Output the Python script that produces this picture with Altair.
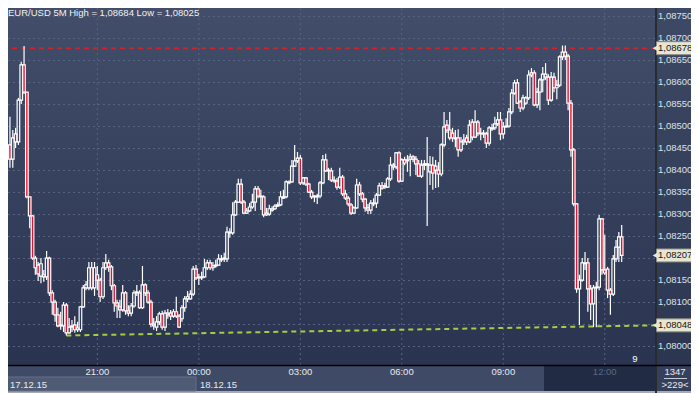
import altair as alt
import pandas as pd

# ------------------------------------------------------------------ data
title_text = "EUR/USD 5M High = 1,08684 Low = 1,08025"
first_bar_hour = 18 + 25 / 60      # first 5-minute bar: 17.12.15 18:25
bar_minutes = 5

opens = [
    1.08458, 1.08426, 1.08483, 1.08465, 1.08560, 1.08640, 1.08578, 1.08340, 1.08297, 1.08201,
    1.08185, 1.08160, 1.08163, 1.08158, 1.08201, 1.08122, 1.08101, 1.08072, 1.08047, 1.08047,
    1.08094, 1.08031, 1.08044, 1.08049, 1.08038, 1.08038, 1.08090, 1.08133, 1.08133, 1.08179,
    1.08133, 1.08163, 1.08151, 1.08113, 1.08179, 1.08190, 1.08181, 1.08138, 1.08099, 1.08090,
    1.08083, 1.08122, 1.08081, 1.08076, 1.08092, 1.08122, 1.08122, 1.08088, 1.08140, 1.08122,
    1.08101, 1.08051, 1.08044, 1.08056, 1.08074, 1.08044, 1.08076, 1.08076, 1.08069, 1.08079,
    1.08069, 1.08063, 1.08088, 1.08108, 1.08108, 1.08119, 1.08176, 1.08158, 1.08156, 1.08158,
    1.08179, 1.08190, 1.08179, 1.08183, 1.08185, 1.08197, 1.08199, 1.08199, 1.08260, 1.08258,
    1.08299, 1.08328, 1.08369, 1.08328, 1.08303, 1.08308, 1.08317, 1.08328, 1.08358, 1.08342,
    1.08340, 1.08299, 1.08301, 1.08310, 1.08313, 1.08319, 1.08322, 1.08337, 1.08340, 1.08372,
    1.08374, 1.08410, 1.08422, 1.08428, 1.08372, 1.08383, 1.08369, 1.08351, 1.08342, 1.08340,
    1.08342, 1.08372, 1.08424, 1.08401, 1.08399, 1.08378, 1.08376, 1.08362, 1.08385, 1.08347,
    1.08337, 1.08322, 1.08303, 1.08315, 1.08367, 1.08347, 1.08335, 1.08315, 1.08310, 1.08324,
    1.08326, 1.08344, 1.08365, 1.08365, 1.08362, 1.08381, 1.08412, 1.08408, 1.08440, 1.08376,
    1.08424, 1.08422, 1.08426, 1.08431, 1.08426, 1.08415, 1.08387, 1.08412, 1.08412, 1.08397,
    1.08412, 1.08410, 1.08401, 1.08392, 1.08458, 1.08503, 1.08492, 1.08485, 1.08474, 1.08474,
    1.08447, 1.08465, 1.08474, 1.08465, 1.08510, 1.08476, 1.08510, 1.08483, 1.08485, 1.08483,
    1.08462, 1.08494, 1.08497, 1.08506, 1.08515, 1.08483, 1.08499, 1.08501, 1.08533, 1.08576,
    1.08599, 1.08556, 1.08542, 1.08553, 1.08565, 1.08617, 1.08622, 1.08549, 1.08578, 1.08606,
    1.08619, 1.08612, 1.08560, 1.08612, 1.08588, 1.08594, 1.08658, 1.08669, 1.08660, 1.08553,
    1.08447, 1.08324, 1.08131, 1.08151, 1.08188, 1.08190, 1.08131, 1.08097, 1.08133, 1.08135,
    1.08290, 1.08174, 1.08176, 1.08128, 1.08119, 1.08199, 1.08226, 1.08249,
]
highs = [
    1.08522, 1.08492, 1.08497, 1.08565, 1.08647, 1.08683, 1.08578, 1.08340, 1.08299, 1.08206,
    1.08192, 1.08201, 1.08174, 1.08217, 1.08204, 1.08128, 1.08106, 1.08088, 1.08079, 1.08101,
    1.08099, 1.08065, 1.08060, 1.08069, 1.08056, 1.08092, 1.08140, 1.08149, 1.08192, 1.08192,
    1.08192, 1.08183, 1.08156, 1.08192, 1.08210, 1.08197, 1.08185, 1.08142, 1.08106, 1.08106,
    1.08140, 1.08126, 1.08094, 1.08099, 1.08128, 1.08140, 1.08128, 1.08183, 1.08144, 1.08128,
    1.08106, 1.08065, 1.08069, 1.08079, 1.08081, 1.08083, 1.08085, 1.08083, 1.08085, 1.08113,
    1.08074, 1.08094, 1.08115, 1.08126, 1.08128, 1.08183, 1.08185, 1.08165, 1.08170, 1.08199,
    1.08197, 1.08197, 1.08192, 1.08197, 1.08210, 1.08208, 1.08213, 1.08272, 1.08269, 1.08328,
    1.08333, 1.08381, 1.08381, 1.08333, 1.08315, 1.08326, 1.08347, 1.08365, 1.08365, 1.08356,
    1.08344, 1.08315, 1.08322, 1.08319, 1.08324, 1.08328, 1.08353, 1.08356, 1.08378, 1.08378,
    1.08424, 1.08458, 1.08442, 1.08435, 1.08385, 1.08385, 1.08372, 1.08356, 1.08344, 1.08347,
    1.08376, 1.08435, 1.08438, 1.08406, 1.08406, 1.08387, 1.08383, 1.08406, 1.08390, 1.08356,
    1.08342, 1.08326, 1.08319, 1.08381, 1.08374, 1.08351, 1.08337, 1.08324, 1.08333, 1.08337,
    1.08349, 1.08372, 1.08374, 1.08372, 1.08385, 1.08431, 1.08417, 1.08442, 1.08444, 1.08428,
    1.08431, 1.08435, 1.08438, 1.08435, 1.08433, 1.08424, 1.08424, 1.08424, 1.08476, 1.08433,
    1.08431, 1.08424, 1.08419, 1.08462, 1.08533, 1.08515, 1.08533, 1.08497, 1.08492, 1.08494,
    1.08476, 1.08483, 1.08481, 1.08515, 1.08517, 1.08537, 1.08515, 1.08497, 1.08492, 1.08488,
    1.08501, 1.08506, 1.08522, 1.08533, 1.08533, 1.08510, 1.08519, 1.08542, 1.08585, 1.08606,
    1.08608, 1.08560, 1.08572, 1.08569, 1.08628, 1.08633, 1.08628, 1.08588, 1.08610, 1.08635,
    1.08644, 1.08619, 1.08624, 1.08622, 1.08606, 1.08662, 1.08684, 1.08684, 1.08665, 1.08560,
    1.08451, 1.08326, 1.08163, 1.08201, 1.08215, 1.08201, 1.08140, 1.08140, 1.08147, 1.08299,
    1.08292, 1.08254, 1.08181, 1.08133, 1.08208, 1.08242, 1.08260, 1.08276,
]
lows = [
    1.08406, 1.08406, 1.08451, 1.08458, 1.08551, 1.08574, 1.08337, 1.08269, 1.08197, 1.08163,
    1.08149, 1.08144, 1.08147, 1.08151, 1.08115, 1.08072, 1.08056, 1.08044, 1.08038, 1.08033,
    1.08025, 1.08029, 1.08033, 1.08031, 1.08033, 1.08033, 1.08088, 1.08128, 1.08128, 1.08128,
    1.08115, 1.08128, 1.08101, 1.08108, 1.08174, 1.08170, 1.08128, 1.08079, 1.08065, 1.08065,
    1.08079, 1.08072, 1.08069, 1.08069, 1.08088, 1.08115, 1.08085, 1.08085, 1.08115, 1.08097,
    1.08044, 1.08038, 1.08035, 1.08049, 1.08038, 1.08035, 1.08063, 1.08060, 1.08065, 1.08065,
    1.08042, 1.08056, 1.08079, 1.08101, 1.08106, 1.08115, 1.08151, 1.08140, 1.08151, 1.08156,
    1.08174, 1.08174, 1.08172, 1.08179, 1.08183, 1.08192, 1.08192, 1.08192, 1.08247, 1.08254,
    1.08297, 1.08326, 1.08324, 1.08301, 1.08301, 1.08306, 1.08313, 1.08308, 1.08337, 1.08310,
    1.08294, 1.08297, 1.08297, 1.08306, 1.08310, 1.08317, 1.08319, 1.08335, 1.08337, 1.08369,
    1.08372, 1.08408, 1.08417, 1.08367, 1.08367, 1.08365, 1.08349, 1.08335, 1.08328, 1.08324,
    1.08337, 1.08369, 1.08397, 1.08378, 1.08374, 1.08372, 1.08356, 1.08358, 1.08342, 1.08333,
    1.08319, 1.08299, 1.08301, 1.08313, 1.08342, 1.08328, 1.08306, 1.08301, 1.08301, 1.08319,
    1.08315, 1.08342, 1.08356, 1.08358, 1.08360, 1.08376, 1.08401, 1.08403, 1.08372, 1.08374,
    1.08412, 1.08397, 1.08387, 1.08419, 1.08390, 1.08385, 1.08383, 1.08401, 1.08274, 1.08367,
    1.08356, 1.08360, 1.08362, 1.08387, 1.08453, 1.08485, 1.08469, 1.08465, 1.08453, 1.08431,
    1.08442, 1.08458, 1.08458, 1.08462, 1.08469, 1.08474, 1.08478, 1.08469, 1.08474, 1.08451,
    1.08456, 1.08490, 1.08492, 1.08501, 1.08469, 1.08472, 1.08497, 1.08497, 1.08528, 1.08572,
    1.08551, 1.08533, 1.08537, 1.08549, 1.08560, 1.08612, 1.08546, 1.08542, 1.08537, 1.08578,
    1.08606, 1.08549, 1.08556, 1.08578, 1.08562, 1.08590, 1.08651, 1.08651, 1.08537, 1.08431,
    1.08319, 1.08122, 1.08049, 1.08147, 1.08174, 1.08079, 1.08060, 1.08044, 1.08044, 1.08128,
    1.08163, 1.08163, 1.08110, 1.08072, 1.08115, 1.08192, 1.08192, 1.08192,
]
closes = [
    1.08426, 1.08474, 1.08465, 1.08560, 1.08640, 1.08578, 1.08340, 1.08297, 1.08201, 1.08179,
    1.08165, 1.08188, 1.08158, 1.08201, 1.08122, 1.08101, 1.08072, 1.08047, 1.08049, 1.08094,
    1.08031, 1.08044, 1.08047, 1.08038, 1.08042, 1.08090, 1.08133, 1.08140, 1.08179, 1.08133,
    1.08179, 1.08151, 1.08113, 1.08179, 1.08190, 1.08181, 1.08138, 1.08099, 1.08092, 1.08083,
    1.08122, 1.08081, 1.08076, 1.08092, 1.08122, 1.08124, 1.08088, 1.08140, 1.08122, 1.08101,
    1.08051, 1.08047, 1.08056, 1.08074, 1.08044, 1.08076, 1.08072, 1.08069, 1.08079, 1.08069,
    1.08044, 1.08088, 1.08108, 1.08113, 1.08119, 1.08176, 1.08156, 1.08156, 1.08158, 1.08179,
    1.08190, 1.08179, 1.08183, 1.08185, 1.08199, 1.08199, 1.08201, 1.08260, 1.08258, 1.08299,
    1.08328, 1.08369, 1.08328, 1.08303, 1.08308, 1.08317, 1.08328, 1.08358, 1.08342, 1.08340,
    1.08299, 1.08303, 1.08313, 1.08313, 1.08319, 1.08322, 1.08340, 1.08340, 1.08374, 1.08374,
    1.08410, 1.08422, 1.08428, 1.08372, 1.08383, 1.08369, 1.08351, 1.08340, 1.08340, 1.08342,
    1.08372, 1.08424, 1.08399, 1.08399, 1.08378, 1.08376, 1.08362, 1.08385, 1.08347, 1.08337,
    1.08324, 1.08303, 1.08315, 1.08367, 1.08347, 1.08335, 1.08315, 1.08310, 1.08326, 1.08326,
    1.08344, 1.08365, 1.08360, 1.08362, 1.08381, 1.08412, 1.08408, 1.08440, 1.08376, 1.08424,
    1.08417, 1.08424, 1.08431, 1.08426, 1.08415, 1.08387, 1.08412, 1.08415, 1.08415, 1.08412,
    1.08394, 1.08401, 1.08392, 1.08458, 1.08499, 1.08492, 1.08474, 1.08474, 1.08472, 1.08447,
    1.08465, 1.08469, 1.08465, 1.08503, 1.08476, 1.08510, 1.08485, 1.08485, 1.08483, 1.08462,
    1.08497, 1.08497, 1.08506, 1.08515, 1.08483, 1.08499, 1.08501, 1.08533, 1.08576, 1.08599,
    1.08553, 1.08542, 1.08565, 1.08565, 1.08617, 1.08622, 1.08549, 1.08578, 1.08606, 1.08619,
    1.08612, 1.08560, 1.08612, 1.08588, 1.08594, 1.08658, 1.08669, 1.08660, 1.08553, 1.08447,
    1.08324, 1.08131, 1.08151, 1.08190, 1.08190, 1.08131, 1.08097, 1.08133, 1.08135, 1.08290,
    1.08174, 1.08167, 1.08128, 1.08119, 1.08199, 1.08226, 1.08249, 1.08207,
]

price_ticks = [1.08000, 1.08050, 1.08100, 1.08150, 1.08200, 1.08250, 1.08300, 1.08350,
               1.08400, 1.08450, 1.08500, 1.08550, 1.08600, 1.08650, 1.08700, 1.08750]
price_tick_labels = ["1,08000", "1,08050", "1,08100", "1,08150", "1,08200", "1,08250",
                     "1,08300", "1,08350", "1,08400", "1,08450", "1,08500", "1,08550",
                     "1,08600", "1,08650", "1,08700", "1,08750"]
time_ticks = [21, 24, 27, 30, 33, 36]          # hours counted from 17.12.15 00:00
time_tick_labels = ["21:00", "00:00", "03:00", "06:00", "09:00", "12:00"]
date_labels = ["17.12.15", "18.12.15"]
marker_prices = [1.08678, 1.08207, 1.08048]
marker_labels = ["1,08678", "1,08207", "1,08048"]
high_line_price = 1.08678
trend_start_hour = 20 + 5 / 60                 # bar with the 1,08025 low
trend_prices = [1.08025, 1.08048]
bars_label = "1347"
visible_label = ">229<"
corner_label = "9"

# ------------------------------------------------------------------ frame
FONT = "Liberation Sans, Arial, sans-serif"
FS = 9.5
W, H = 683, 385


def cx(a):
    return a - 8


def cy(a):
    return a - 8


xsc = alt.Scale(domain=[18.5066, 38.4016], nice=False, zero=False)
ysc = alt.Scale(domain=[1.078943, 1.087693], nice=False, zero=False)


def X(f):
    return alt.X(f, type="quantitative", scale=xsc, axis=None)


def Y(f):
    return alt.Y(f, type="quantitative", scale=ysc, axis=None)


one = pd.DataFrame({"k": [0]})


def rect(x1, y1, x2, y2, **kw):
    return alt.Chart(one).mark_rect(**kw).encode(
        x=alt.value(cx(x1)), x2=alt.value(cx(x2)),
        y=alt.value(cy(y1)), y2=alt.value(cy(y2)))


def seg(x1, y1, x2, y2, **kw):
    return alt.Chart(one).mark_rule(**kw).encode(
        x=alt.value(cx(x1)), x2=alt.value(cx(x2)),
        y=alt.value(cy(y1)), y2=alt.value(cy(y2)))


def label(text, x, y, **kw):
    return alt.Chart(one).mark_text(text=text, font=FONT, fontSize=FS, **kw).encode(
        x=alt.value(cx(x)), y=alt.value(cy(y)))


def grad(c1, c2):
    return alt.LinearGradient(
        gradient="linear",
        stops=[alt.GradientStop(color=c1, offset=0), alt.GradientStop(color=c2, offset=1)],
        x1=0, x2=0, y1=0, y2=1)


# ------------------------------------------------------------------ candles
df = pd.DataFrame({"open": opens, "high": highs, "low": lows, "close": closes})
df["t"] = [first_bar_hour + i * bar_minutes / 60 for i in range(len(df))]
df["top"] = df[["open", "close"]].max(axis=1)
df["bot"] = df[["open", "close"]].min(axis=1)
df["hi"] = df[["high", "top"]].max(axis=1)
df["lo"] = df[["low", "bot"]].min(axis=1)

base = alt.Chart(df)
wick_up = base.mark_rule(color="#ffffff", strokeWidth=1.2).encode(x=X("t"), y=Y("hi"), y2="top")
wick_dn = base.mark_rule(color="#ffffff", strokeWidth=1.2).encode(x=X("t"), y=Y("bot"), y2="lo")
bodies = base.mark_bar(width=2.6, stroke="#ffffff", strokeWidth=1.2).encode(
    x=X("t"), y=Y("top"), y2="bot",
    fill=alt.condition("datum.close < datum.open", alt.value("#ec0f2c"), alt.value("transparent")))

# ------------------------------------------------------------------ grid / lines
pt = pd.DataFrame({"p": price_ticks, "lab": price_tick_labels})
tt = pd.DataFrame({"t": time_ticks, "lab": time_tick_labels})

hgrid = alt.Chart(pt).mark_rule(color="#58647f", strokeDash=[2, 3], strokeWidth=1).encode(
    y=Y("p"), x=alt.value(cx(3)), x2=alt.value(cx(655)))
vgrid = alt.Chart(tt).mark_rule(color="#58647f", strokeDash=[2, 3], strokeWidth=1).encode(
    x=X("t"), y=alt.value(cy(3)), y2=alt.value(cy(365)))

high_line = alt.Chart(pd.DataFrame({"p": [high_line_price]})).mark_rule(
    color="#d3202c", strokeDash=[5, 4], strokeWidth=2).encode(
    y=Y("p"), x=alt.value(cx(3)), x2=alt.value(cx(655)))

trend = alt.Chart(pd.DataFrame({"t": [trend_start_hour], "p1": [trend_prices[0]],
                                "p2": [trend_prices[1]]})).mark_rule(
    color="#a2d03e", strokeDash=[5, 4], strokeWidth=2).encode(
    x=X("t"), x2=alt.value(cx(655)), y=Y("p1"), y2="p2")

# ------------------------------------------------------------------ panels
layers = [
    rect(0, 0, 699, 393, color="#a3abb8"),
    rect(3, 3, 655, 365, color=grad("#424e6a", "#2a3450")),
    rect(657, 3, 697, 365, color=grad("#3d4965", "#2c3651")),
    rect(3, 366, 655, 391, color="#3e4a66"),
    rect(3, 377, 196, 391, color="#4f5b74", stroke="#65718a", strokeWidth=1),
    rect(544, 366, 655, 391, color="#222b44"),
    rect(657, 366, 697, 391, color="#35415c"),
    hgrid, vgrid, high_line, trend,
    wick_up, wick_dn, bodies,
    seg(656, 3, 656, 393, color="#000000", strokeWidth=1.5),
    seg(3, 365.5, 699, 365.5, color="#000000", strokeWidth=1.5),
]

ax_text = alt.Chart(pt).mark_text(align="left", baseline="middle", font=FONT, fontSize=FS,
                                  color="#dde2ea").encode(
    y=Y("p"), x=alt.value(cx(658)), text="lab:N")

mk = pd.DataFrame({"p": marker_prices, "lab": marker_labels})
tag_box = alt.Chart(mk).mark_tick(orient="horizontal", thickness=13, size=35, fill="#e8e5d1",
                                  stroke="#8a8a84", strokeWidth=1, opacity=1).encode(
    y=Y("p"), x=alt.value(cx(674)))
tag_arrow = alt.Chart(mk).mark_point(shape="triangle-left", filled=True, size=60,
                                     fill="#e8e5d1", opacity=1).encode(
    y=Y("p"), x=alt.value(cx(656)))
tag_text = alt.Chart(mk).mark_text(align="left", baseline="middle", font=FONT, fontSize=FS,
                                   color="#151515").encode(
    y=Y("p"), x=alt.value(cx(658)), text="lab:N")

time_text = alt.Chart(tt).mark_text(baseline="middle", font=FONT, fontSize=FS).encode(
    x=X("t"), y=alt.value(cy(372)), text="lab:N",
    color=alt.condition("datum.t == 36", alt.value("#5c6782"), alt.value("#e8ebf0")))

layers += [
    ax_text, tag_box, tag_arrow, tag_text, time_text,
    label(date_labels[0], 10, 385, align="left", baseline="middle", color="#e8ebf0"),
    label(date_labels[1], 200, 385, align="left", baseline="middle", color="#e8ebf0"),
    label(bars_label, 675, 372, align="center", baseline="middle", color="#e8ebf0"),
    seg(664, 378.5, 687, 378.5, color="#c9ced8", strokeWidth=1),
    label(visible_label, 675, 385, align="center", baseline="middle", color="#e8ebf0"),
    label(corner_label, 635, 359, align="center", baseline="middle", color="#ffffff"),
    label(title_text, 8, 8, align="left", baseline="top", color="#f2f2f2"),
]

chart = alt.layer(*layers).properties(
    width=W, height=H, padding=0, autosize=alt.AutoSizeParams(type="none")
).configure_view(stroke=None)

chart.save("out.html", embed_options={"renderer": "svg", "actions": False})
